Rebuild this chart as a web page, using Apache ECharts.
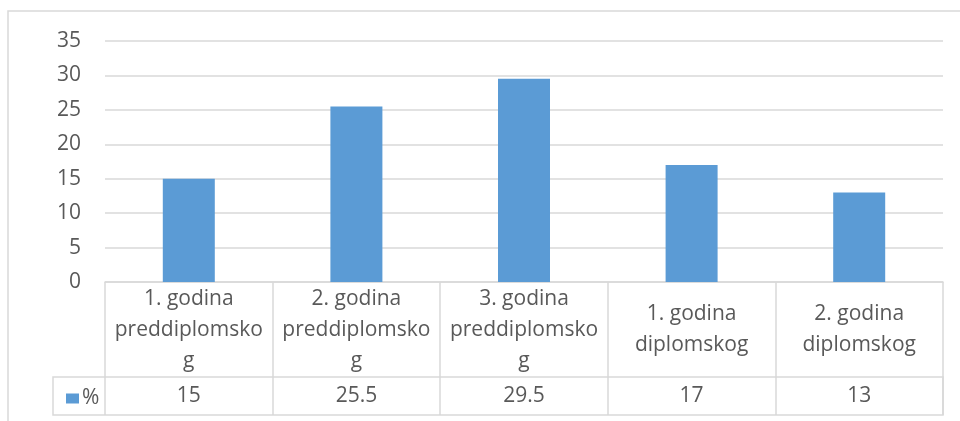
<!DOCTYPE html>
<html><head><meta charset="utf-8">
<script src="https://cdn.jsdelivr.net/npm/echarts@6/dist/echarts.min.js"></script>
<style>html,body{margin:0;padding:0;background:#fff}#c{width:960px;height:421px}</style>
</head><body><div id="c"></div>
<script>
const categories = ['1. godina\npreddiplomsko\ng','2. godina\npreddiplomsko\ng','3. godina\npreddiplomsko\ng','1. godina\ndiplomskog','2. godina\ndiplomskog'];
const values = [15, 25.5, 29.5, 17, 13];
const seriesName = '%';
const yTicks = {min: 0, max: 35, interval: 5};

const FONT = 'Open Sans';
const FS = 21;
const TXT = '#595959';
const LINE = '#D9D9D9';
const chart = echarts.init(document.getElementById('c'));
chart.setOption({
  animation: false,
  textStyle: {fontFamily: FONT},
  graphic: [{type: 'rect', shape: {x: 8, y: 11, width: 1200, height: 800}, style: {fill: 'none', stroke: LINE, lineWidth: 1.5}, z: -10}],
  grid: [
    {left: 105, right: 17, top: 41, bottom: 139},
    {left: 53, right: 17, top: 377, bottom: 6, show: true, borderColor: LINE, borderWidth: 1.5, backgroundColor: 'transparent'}
  ],
  legend: {left: 61, top: 383, itemWidth: 13, itemHeight: 10, icon: 'rect', itemGap: 0,
    textStyle: {fontFamily: FONT, fontSize: FS, color: TXT, padding: [0,0,0,-2]}, data: [seriesName]},
  xAxis: [
    {type: 'category', data: categories, gridIndex: 0,
      axisLine: {lineStyle: {color: LINE, width: 1.5}},
      axisTick: {show: true, length: 133, lineStyle: {color: LINE, width: 1.5}},
      axisLabel: {fontFamily: FONT, fontSize: FS, color: TXT, lineHeight: 31, margin: 48, verticalAlign: 'middle', interval: 0}},
    {type: 'category', data: values.map(String), gridIndex: 0, position: 'bottom',
      axisLine: {show: false}, axisTick: {show: false},
      axisLabel: {fontFamily: FONT, fontSize: FS, color: TXT, margin: 114, verticalAlign: 'middle', interval: 0}},
    {type: 'value', gridIndex: 1, show: false}
  ],
  yAxis: [
    {type: 'value', gridIndex: 0, min: yTicks.min, max: yTicks.max, interval: yTicks.interval,
      axisLine: {show: false}, axisTick: {show: false},
      splitLine: {lineStyle: {color: LINE, width: 1.5}},
      axisLabel: {fontFamily: FONT, fontSize: FS, color: TXT, margin: 24}},
    {type: 'value', gridIndex: 1, show: false}
  ],
  series: [{name: seriesName, type: 'bar', xAxisIndex: 0, yAxisIndex: 0, data: values, barWidth: 52,
    itemStyle: {color: '#5B9BD5'}}]
});
</script></body></html>
